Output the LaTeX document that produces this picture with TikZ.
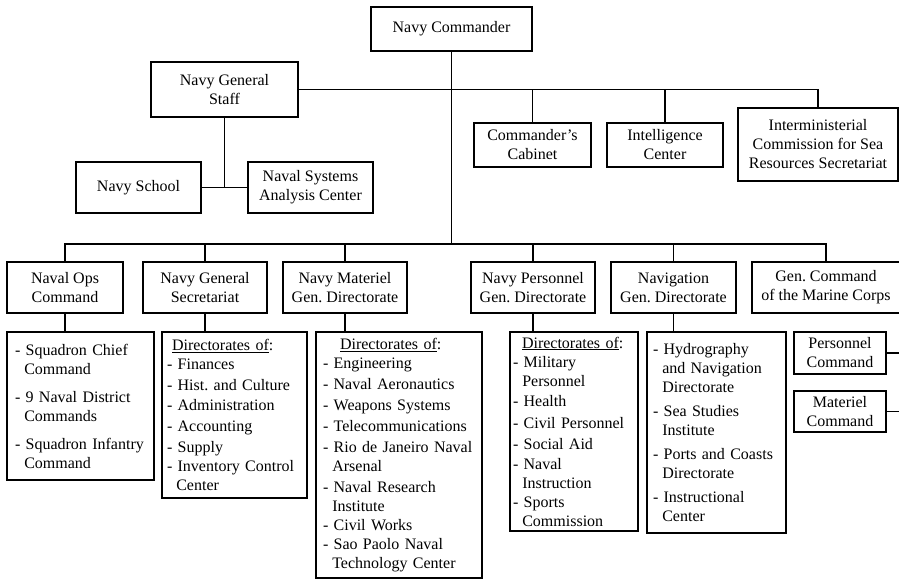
\documentclass[tikz,border=0pt]{standalone}
\usepackage{fontspec}
\setmainfont{Liberation Serif}
\frenchspacing
% hanging indent for continuation lines of a list item
\newcommand\hangin{\hspace*{9.3pt}}
\newcommand\dirof[1]{\hspace*{#1}\underline{Directorates of}:}
\begin{document}
\begin{tikzpicture}[x=1pt,y=-1pt,
  every node/.style={font=\fontsize{16}{19}\selectfont},
  box/.style={draw, line width=1.1pt, inner sep=0pt, align=center},
  listbox/.style={draw, line width=1.1pt, inner ysep=0pt, align=left},
  link/.style={line width=1.1pt}]
\useasboundingbox (0,0) rectangle (899,579);

% top level
\node[box, minimum width=161, minimum height=44] (cmdr) at (451.5,29) {Navy Commander};
\node[box, minimum width=147, minimum height=55] (gstaff) at (224.5,89.5) {Navy General\\Staff};
\node[box, minimum width=117, minimum height=44] (cab) at (532.5,145) {Commander's\\Cabinet};
\node[box, minimum width=116, minimum height=44] (intel) at (665,145) {Intelligence\\Center};
\node[box, minimum width=160, minimum height=73] (imc) at (818,144.5) {Interministerial\\Commission for Sea\\Resources Secretariat};
\node[box, minimum width=125, minimum height=51] (school) at (138.5,187.5) {Navy School};
\node[box, minimum width=125, minimum height=51] (nsac) at (310.5,187.5) {Naval Systems\\Analysis Center};

% second level
\node[box, minimum width=116, minimum height=51] (ops) at (65,287.5) {Naval Ops\\Command};
\node[box, minimum width=124, minimum height=51] (sec) at (205,287.5) {Navy General\\Secretariat};
\node[box, minimum width=124, minimum height=51] (mat) at (345,287.5) {Navy Materiel\\Gen. Directorate};
\node[box, minimum width=124, minimum height=51] (pers) at (533,287.5) {Navy Personnel\\Gen. Directorate};
\node[box, minimum width=125, minimum height=51] (nav) at (673.5,287.5) {Navigation\\Gen. Directorate};
\node[box, minimum width=148, minimum height=51] (marine) at (826,287.5) {Gen. Command\\of the Marine Corps};

% third level lists
\node[listbox, inner xsep=8, text width=131, minimum height=148] (opsl) at (80.5,406)
  {- Squadron Chief\\\hangin Command\\[9pt]
   - 9 Naval District\\\hangin Commands\\[9pt]
   - Squadron Infantry\\\hangin Command};
\node[listbox, inner xsep=5, text width=135, minimum height=166] (secl) at (234.5,415)
  {\dirof{5pt}\\
   - Finances\\[2pt]
   - Hist. and Culture\\[1pt]
   - Administration\\[2pt]
   - Accounting\\[2pt]
   - Supply\\
   - Inventory Control\\\hangin Center};
\node[listbox, inner xsep=7, text width=152, minimum height=246] (matl) at (399,455)
  {\dirof{17pt}\\
   - Engineering\\[2pt]
   - Naval Aeronautics\\[2pt]
   - Weapons Systems\\[2pt]
   - Telecommunications\\[2pt]
   - Rio de Janeiro Naval\\\hangin Arsenal\\[2pt]
   - Naval Research\\\hangin Institute\\
   - Civil Works\\
   - Sao Paolo Naval\\\hangin Technology Center};
\node[listbox, inner xsep=3, text width=122, minimum height=199] (persl) at (574,431.5)
  {\dirof{9pt}\\
   - Military\\\hangin Personnel\\[1pt]
   - Health\\[3pt]
   - Civil Personnel\\[2pt]
   - Social Aid\\[1pt]
   - Naval\\\hangin Instruction\\
   - Sports\\\hangin Commission};
\node[listbox, inner xsep=6, text width=127, minimum height=201] (navl) at (716.5,432.5)
  {- Hydrography\\\hangin and Navigation\\\hangin Directorate\\[5pt]
   - Sea Studies\\\hangin Institute\\[5pt]
   - Ports and Coasts\\\hangin Directorate\\[5pt]
   - Instructional\\\hangin Center};
\node[box, minimum width=92, minimum height=42] (pcmd) at (840,353) {Personnel\\Command};
\node[box, minimum width=92, minimum height=41] (mcmd) at (840,411.5) {Materiel\\Command};

% connectors
\coordinate (lowbus) at (451.5,244);
\coordinate (rail) at (900,0);
\draw[link] (cmdr.south) -- (cmdr.south |- lowbus);
\draw[link] (gstaff.east) -| (imc.north);
\draw[link] (cab.north) -- (cab.north |- gstaff.east);
\draw[link] (intel.north) -- (intel.north |- gstaff.east);
\draw[link] (gstaff.south) -- (gstaff.south |- school.east);
\draw[link] (school.east) -- (nsac.west);

\draw[link] (ops.north) |- (lowbus) -| (marine.north);
\foreach \n in {sec,mat,pers,nav}
  \draw[link] (\n.north) -- (\n.north |- lowbus);

\draw[link] (ops.south) -- (ops.south |- opsl.north);
\draw[link] (sec.south) -- (sec.south |- secl.north);
\draw[link] (mat.south) -- (mat.south |- matl.north);
\draw[link] (pers.south) -- (pers.south |- persl.north);
\draw[link] (nav.south) -- (nav.south |- navl.north);
\draw[link] (pcmd.east) -- (pcmd.east -| rail);
\draw[link] (mcmd.east) -- (mcmd.east -| rail);
\end{tikzpicture}
\end{document}
